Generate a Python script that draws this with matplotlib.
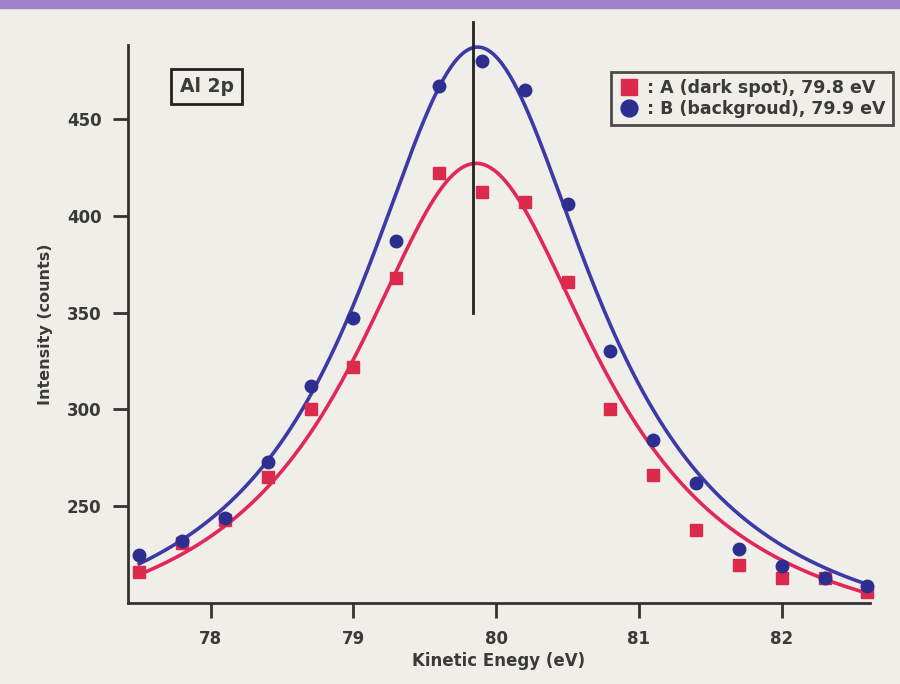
import numpy as np
import matplotlib.pyplot as plt
from matplotlib.patches import Rectangle

# Kinetic energy (eV) of the measured points
energy = [77.5, 77.8, 78.1, 78.4, 78.7, 79.0, 79.3, 79.6, 79.9,
          80.2, 80.5, 80.8, 81.1, 81.4, 81.7, 82.0, 82.3, 82.6]
# A: dark spot
counts_a = [216, 231, 243, 265, 300, 322, 368, 422, 412,
            407, 366, 300, 266, 238, 220, 213, 213, 206]
# B: background
counts_b = [225, 232, 244, 273, 312, 347, 387, 467, 480,
            465, 406, 330, 284, 262, 228, 219, 213, 209]

# Lorentzian fit parameters: centre, height, half width, baseline
fit_a = dict(x0=79.86, amp=255, gamma=1.06, base=172)
fit_b = dict(x0=79.87, amp=316, gamma=1.02, base=171)
peak_line_x = 79.84

label_a = ": A (dark spot), 79.8 eV"
label_b = ": B (backgroud), 79.9 eV"


def lorentz(x, x0, amp, gamma, base):
    return base + amp / (1 + ((x - x0) / gamma) ** 2)


plt.rcParams['font.family'] = ['DejaVu Sans']
plt.rcParams['font.weight'] = 'bold'
plt.rcParams['axes.labelweight'] = 'bold'
txt = '#3a3a3a'
red = '#e2285a'
blue = '#2c2f8f'

fig = plt.figure(figsize=(9, 6.84), dpi=100, facecolor='#efeee9')
fig.patches.append(Rectangle((0, 0.988), 1, 0.012, transform=fig.transFigure,
                             color='#9d82cc', zorder=0))
ax = fig.add_axes([0.142, 0.118, 0.825, 0.816])
ax.set_facecolor('none')

xs = np.linspace(77.5, 82.6, 400)
ax.plot(xs, lorentz(xs, **fit_a), color=red, lw=2.6, zorder=2)
ax.plot(xs, lorentz(xs, **fit_b), color='#3b3aa6', lw=2.6, zorder=2)

ax.plot(energy, counts_a, 's', color='#dc2a4c', ms=9, clip_on=False, zorder=3,
        label=label_a)
ax.plot(energy, counts_b, 'o', color=blue, ms=9, clip_on=False, zorder=3,
        label=label_b)

ax.plot([peak_line_x, peak_line_x], [350, 500], color='#222222', lw=2,
        clip_on=False, zorder=4)

ax.set_xlim(77.42, 82.62)
ax.set_ylim(200, 488)
ax.set_xticks([78, 79, 80, 81, 82])
ax.set_yticks([250, 300, 350, 400, 450])

for s in ['top', 'right']:
    ax.spines[s].set_visible(False)
for s in ['left', 'bottom']:
    ax.spines[s].set_color('#333333')
    ax.spines[s].set_linewidth(2)
ax.tick_params(direction='out', length=11, width=2, color='#333333',
               labelsize=12, labelcolor=txt, pad=8)

ax.set_xlabel("Kinetic Enegy (eV)", fontsize=12, color=txt, labelpad=3)
ax.set_ylabel("Intensity (counts)", fontsize=11.5, color=txt, labelpad=10)

ax.text(0.106, 0.926, "Al 2p", transform=ax.transAxes, fontsize=13.5, color=txt,
        ha='center', va='center',
        bbox=dict(boxstyle='square,pad=0.45', fc='none', ec='#222222', lw=2))

leg = ax.legend(loc='upper right', bbox_to_anchor=(1.03, 0.952), fontsize=12.5,
                frameon=True, fancybox=False, handletextpad=0.4,
                handlelength=1.3, borderpad=0.4, labelspacing=0.2,
                markerscale=1.35, borderaxespad=0)
leg.get_frame().set_edgecolor('#222222')
leg.get_frame().set_linewidth(2)
leg.get_frame().set_facecolor('none')
for t in leg.get_texts():
    t.set_color(txt)

fig.savefig('out.png', dpi=100, facecolor=fig.get_facecolor())
